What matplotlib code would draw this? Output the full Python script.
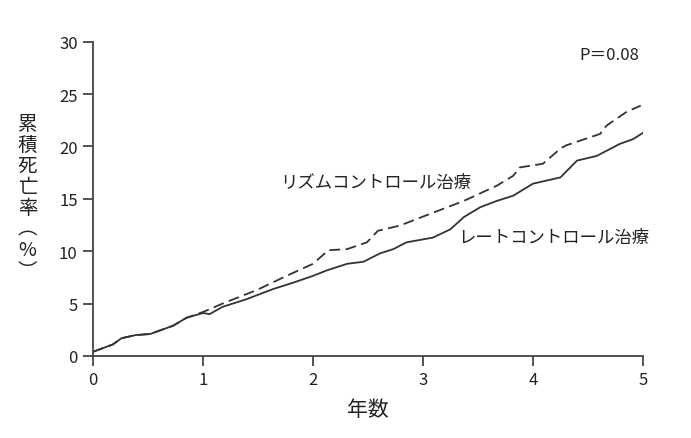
import matplotlib
matplotlib.use("Agg")
import matplotlib.pyplot as plt

plt.rcParams['font.family'] = ['Noto Sans CJK JP', 'DejaVu Sans']

# rate control (solid)
rate_x = [0, 0.18, 0.26, 0.39, 0.52, 0.73, 0.85, 1.0, 1.06, 1.18, 1.39, 1.64, 1.82,
          2.0, 2.12, 2.31, 2.46, 2.61, 2.73, 2.85, 3.09, 3.25, 3.37, 3.52, 3.67,
          3.82, 4.0, 4.25, 4.4, 4.58, 4.79, 4.91, 5.0]
rate_y = [0.4, 1.1, 1.7, 2.0, 2.1, 2.9, 3.65, 4.1, 4.0, 4.7, 5.4, 6.4, 7.0,
          7.65, 8.15, 8.8, 9.0, 9.8, 10.2, 10.85, 11.3, 12.1, 13.25, 14.2, 14.8,
          15.3, 16.45, 17.05, 18.65, 19.1, 20.25, 20.7, 21.3]

# rhythm control (dashed)
rhythm_x = [0, 0.18, 0.26, 0.39, 0.52, 0.73, 0.85, 1.0, 1.2, 1.49, 1.76, 2.0,
            2.14, 2.31, 2.49, 2.59, 2.79, 3.06, 3.37, 3.67, 3.82, 3.88, 4.09,
            4.25, 4.3, 4.61, 4.67, 4.85, 4.98]
rhythm_y = [0.4, 1.1, 1.7, 2.0, 2.1, 2.9, 3.65, 4.2, 5.1, 6.3, 7.65, 8.8,
            10.1, 10.2, 10.85, 11.95, 12.45, 13.55, 14.8, 16.25, 17.2, 18.0, 18.35,
            19.8, 20.1, 21.2, 22.0, 23.3, 23.9]

fig = plt.figure(figsize=(6.91, 4.39), dpi=100)
ax = fig.add_axes([0.1346, 0.1868, 0.7959, 0.7159])

c = '#333333'
ax.plot(rate_x, rate_y, color=c, lw=1.3)
ax.plot(rhythm_x, rhythm_y, color=c, lw=1.3, linestyle=(0, (6, 3)))

ax.set_xlim(0, 5)
ax.set_ylim(0, 30)
ax.set_xticks([0, 1, 2, 3, 4, 5])
ax.set_yticks([0, 5, 10, 15, 20, 25, 30])
for s in ['top', 'right']:
    ax.spines[s].set_visible(False)
for s in ['left', 'bottom']:
    ax.spines[s].set_color('#444444')
    ax.spines[s].set_linewidth(1.3)
ax.tick_params(direction='out', length=7, width=1.3, color='#444444',
               labelsize=12, labelcolor='#222222', pad=4)

ax.text(1.7, 16.6, 'リズムコントロール治療', fontsize=12.5, color='#222222', va='center')
ax.text(3.32, 11.4, 'レートコントロール治療', fontsize=12.5, color='#222222', va='center')
ax.text(4.97, 28.8, 'P＝0.08', fontsize=12, color='#222222', va='center', ha='right')

fig.text(0.532, 0.065, '年数', fontsize=15, color='#222222', ha='center', va='center')
fig.text(0.04, 0.55, '累\n積\n死\n亡\n率\n︵\n%\n︶', fontsize=14, color='#222222',
         ha='center', va='center', linespacing=1.0)

fig.savefig('out.png', dpi=100)
